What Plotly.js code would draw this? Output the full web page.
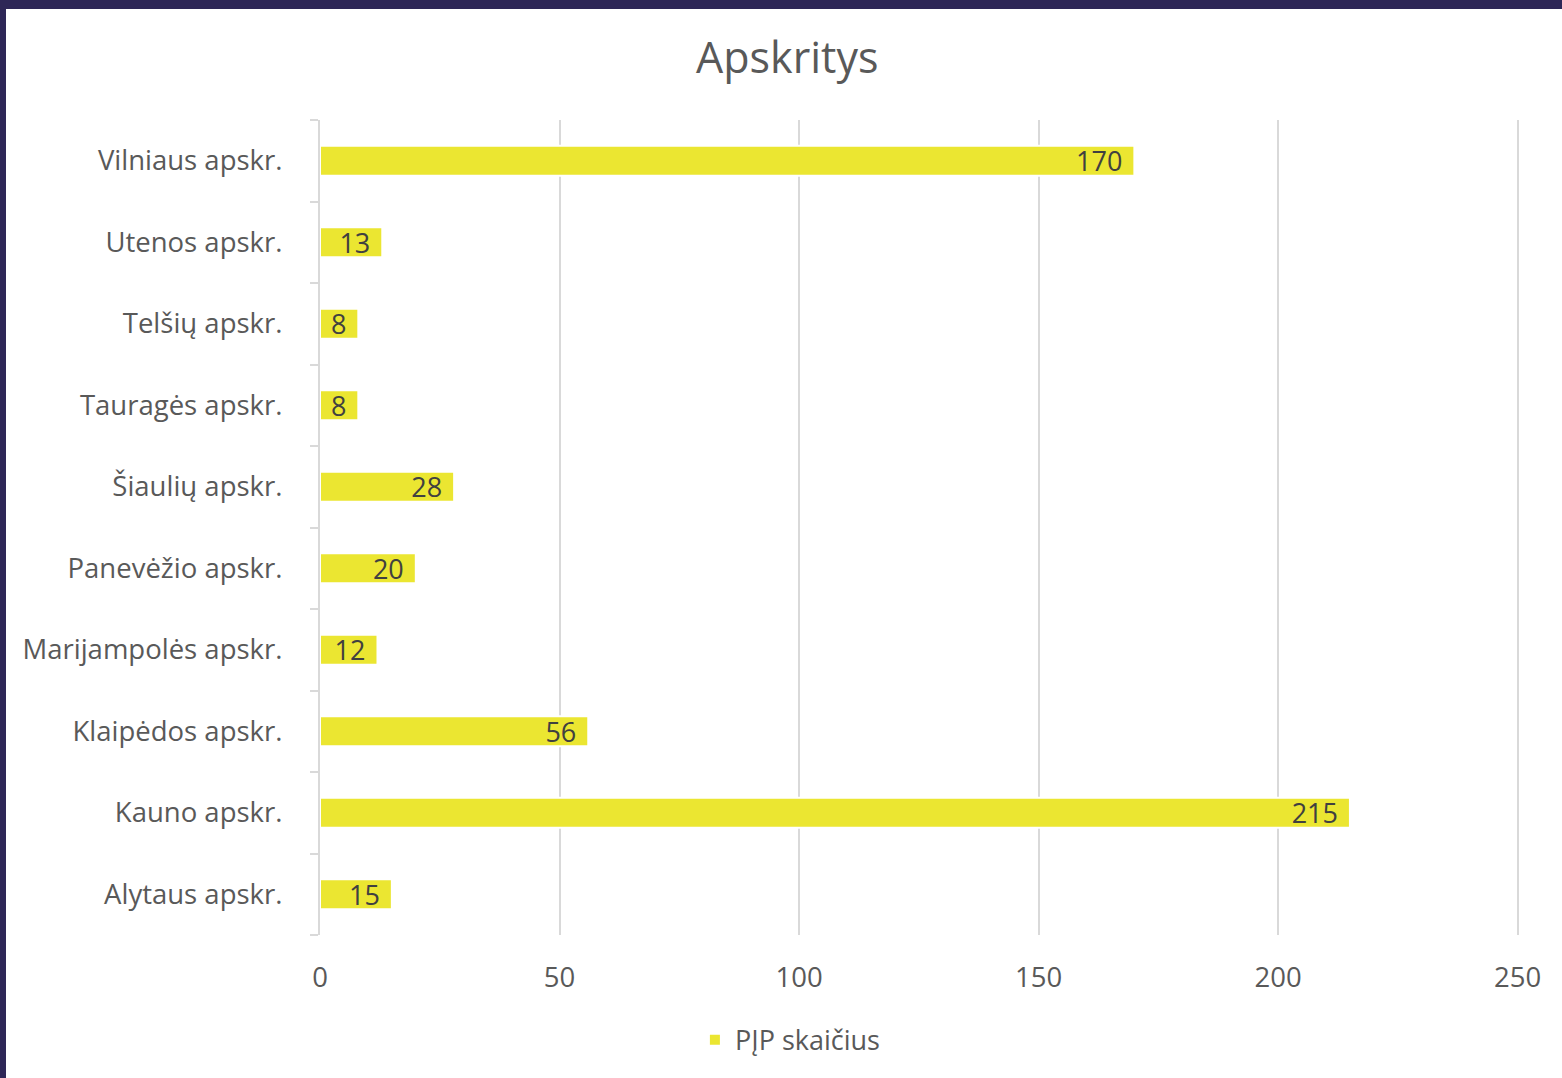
<!DOCTYPE html>
<html>
<head>
<meta charset="utf-8">
<script src="https://cdn.plot.ly/plotly-3.0.1.min.js"></script>
<style>
html,body{margin:0;padding:0;background:#fff;}
#wrap{position:relative;width:1562px;height:1078px;overflow:hidden;}
#chart{position:absolute;left:0;top:0;width:1562px;height:1078px;}
.bt{position:absolute;left:0;top:0;width:1562px;height:9px;background:#2E2757;}
.bl{position:absolute;left:0;top:0;width:6px;height:1078px;background:#2E2757;}
</style>
</head>
<body>
<div id="wrap"><div id="chart"></div><div class="bt"></div><div class="bl"></div></div>
<script>
const categories = ["Alytaus apskr.", "Kauno apskr.", "Klaipėdos apskr.", "Marijampolės apskr.", "Panevėžio apskr.", "Šiaulių apskr.", "Tauragės apskr.", "Telšių apskr.", "Utenos apskr.", "Vilniaus apskr."];
const values = [15, 215, 56, 12, 20, 28, 8, 8, 13, 170];
const seriesName = "PĮP skaičius";
const xTicks = [0, 50, 100, 150, 200, 250];

const FONT = "Open Sans, Noto Sans, sans-serif";
const trace = {
  type: "bar",
  orientation: "h",
  y: categories,
  x: values,
  name: seriesName,
  text: values.map(v => String(v) + "\u2004"),
  textposition: "inside",
  insidetextanchor: "end",
  textangle: 0,
  constraintext: "none",
  cliponaxis: false,
  textfont: {family: FONT, size: 27, color: "#404040"},
  marker: {color: "#EBE631", line: {color: "#ffffff", width: 2}},
  width: 0.37,
  showlegend: true,
  hoverinfo: "x+y"
};
const layout = {
  width: 1562, height: 1078,
  paper_bgcolor: "#ffffff", plot_bgcolor: "#ffffff",
  margin: {l: 320, r: 42, t: 120, b: 143, pad: 0, autoexpand: false},
  font: {family: FONT, color: "#595959"},
  title: {text: "Apskritys", font: {family: FONT, size: 43, color: "#595959"}, x: 0.504, xanchor: "center", y: 1 - 58/1078, yref: "container", yanchor: "middle"},
  bargap: 0.63,
  xaxis: {
    autorange: false, range: [0, 250.5], tickvals: xTicks, ticktext: xTicks.map(String),
    showgrid: true, gridcolor: "#D9D9D9", gridwidth: 2,
    zeroline: false, showline: false, ticks: "",
    ticklabelstandoff: 23,
    tickfont: {family: FONT, size: 27.5, color: "#595959"},
    fixedrange: true
  },
  yaxis: {
    type: "category", categoryorder: "array", categoryarray: categories,
    showline: true, linecolor: "#D9D9D9", linewidth: 2,
    ticks: "outside", tickson: "boundaries", ticklen: 8, tickcolor: "#D9D9D9", tickwidth: 2,
    showgrid: false, zeroline: false,
    ticklabelstandoff: 30,
    tickfont: {family: FONT, size: 27.5, color: "#595959"},
    fixedrange: true
  },
  showlegend: true,
  legend: {orientation: "h", x: 0.392, xanchor: "center", y: -0.129, yanchor: "middle",
           font: {family: FONT, size: 27, color: "#595959"}, itemwidth: 30, bgcolor: "rgba(0,0,0,0)"}
};
Plotly.newPlot("chart", [trace], layout, {displayModeBar: false, staticPlot: true});
</script>
</body>
</html>
